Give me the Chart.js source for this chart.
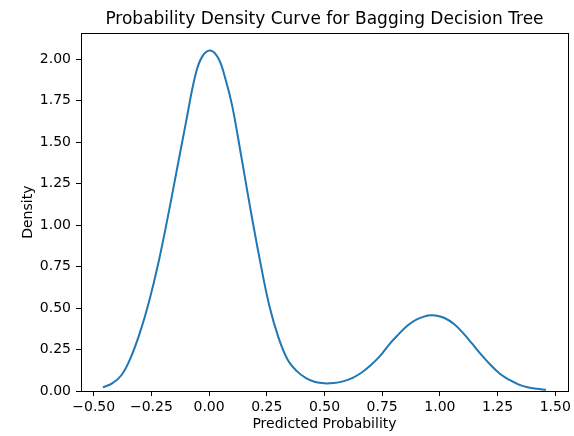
<!DOCTYPE html>
<html>
<head>
<meta charset="utf-8">
<script src="https://cdn.jsdelivr.net/npm/chart.js@4"></script>
<style>
  html, body { margin: 0; padding: 0; background: #fff; }
  #wrap { width: 574px; height: 436px; }
</style>
</head>
<body>
<div id="wrap"><canvas id="kde"></canvas></div>
<script>
// valores
const predX = [-0.46, -0.42, -0.38, -0.34, -0.30, -0.26, -0.22, -0.18, -0.14, -0.10, -0.06, -0.03,
  0.005, 0.04, 0.07, 0.10, 0.14, 0.18, 0.22, 0.26, 0.30, 0.34, 0.38, 0.42, 0.46, 0.50, 0.54, 0.58, 0.62,
  0.66, 0.70, 0.74, 0.78, 0.82, 0.86, 0.90, 0.94, 0.96, 0.98, 1.02, 1.06, 1.10, 1.14, 1.18, 1.22, 1.26,
  1.30, 1.34, 1.38, 1.42, 1.46];
const density = [0.022, 0.046, 0.095, 0.20, 0.35, 0.54, 0.77, 1.04, 1.33, 1.62, 1.90, 2.015,
  2.052, 2.005, 1.885, 1.72, 1.41, 1.09, 0.79, 0.52, 0.325, 0.19, 0.12, 0.078, 0.054, 0.046, 0.048, 0.058, 0.078,
  0.11, 0.155, 0.21, 0.28, 0.34, 0.395, 0.432, 0.452, 0.456, 0.455, 0.44, 0.405, 0.35, 0.285, 0.218, 0.157, 0.104,
  0.068, 0.04, 0.023, 0.013, 0.007];
const xTicks = [-0.5, -0.25, 0, 0.25, 0.5, 0.75, 1.0, 1.25, 1.5];
const yTicks = [0, 0.25, 0.5, 0.75, 1.0, 1.25, 1.5, 1.75, 2.0];

const fmt = v => Number(v).toFixed(2).replace('-', '\u2212');
const fuente = 'DejaVu Sans';

// marco de los cuatro lados
const marco = {
    id: 'marco',
    afterDraw(chart) {
        const a = chart.chartArea;
        const ctx = chart.ctx;
        ctx.save();
        ctx.strokeStyle = '#000';
        ctx.lineWidth = 1;
        ctx.strokeRect(Math.round(a.left) + 0.5, Math.round(a.top) + 0.5,
            Math.round(a.right - a.left), Math.round(a.bottom - a.top));
        ctx.restore();
    }
};

const data = {
    datasets: [{
        data: predX.map((x, i) => ({ x: x, y: density[i] })),
        borderColor: '#1f77b4',
        borderWidth: 2,
        pointRadius: 0,
        tension: 0.4,
        fill: false
    }]
};

const config = {
    type: 'line',
    data: data,
    options: {
        responsive: true,
        maintainAspectRatio: false,
        animation: false,
        layout: { padding: 0 },
        plugins: {
            legend: { display: false },
            tooltip: { enabled: false },
            title: {
                display: true,
                fullSize: false,
                text: 'Probability Density Curve for Bagging Decision Tree',
                color: '#000',
                font: { family: fuente, size: 17, weight: 'normal' },
                padding: { top: 9, bottom: 4 }
            }
        },
        scales: {
            x: {
                type: 'linear',
                min: -0.555,
                max: 1.555,
                afterBuildTicks: s => { s.ticks = xTicks.map(v => ({ value: v })); },
                afterFit: s => { s.height = 45; },
                grid: { drawOnChartArea: false, drawTicks: true, tickLength: 5, color: '#000' },
                border: { display: false },
                ticks: {
                    color: '#000',
                    padding: 3,
                    maxRotation: 0,
                    font: { family: fuente, size: 14 },
                    callback: v => fmt(v)
                },
                title: {
                    display: true,
                    text: 'Predicted Probability',
                    color: '#000',
                    font: { family: fuente, size: 14 },
                    padding: { top: 0, bottom: 3 }
                }
            },
            y: {
                min: 0,
                max: 2.155,
                afterBuildTicks: s => { s.ticks = yTicks.map(v => ({ value: v })); },
                afterFit: s => { s.width = 81; },
                grid: { drawOnChartArea: false, drawTicks: true, tickLength: 5, color: '#000' },
                border: { display: false },
                ticks: {
                    color: '#000',
                    padding: 5,
                    font: { family: fuente, size: 14 },
                    callback: v => fmt(v)
                },
                title: {
                    display: true,
                    text: 'Density',
                    color: '#000',
                    font: { family: fuente, size: 14 },
                    padding: { top: 20, bottom: 0 }
                }
            }
        }
    },
    plugins: [marco]
};

new Chart(document.querySelector('#kde'), config);
</script>
</body>
</html>
